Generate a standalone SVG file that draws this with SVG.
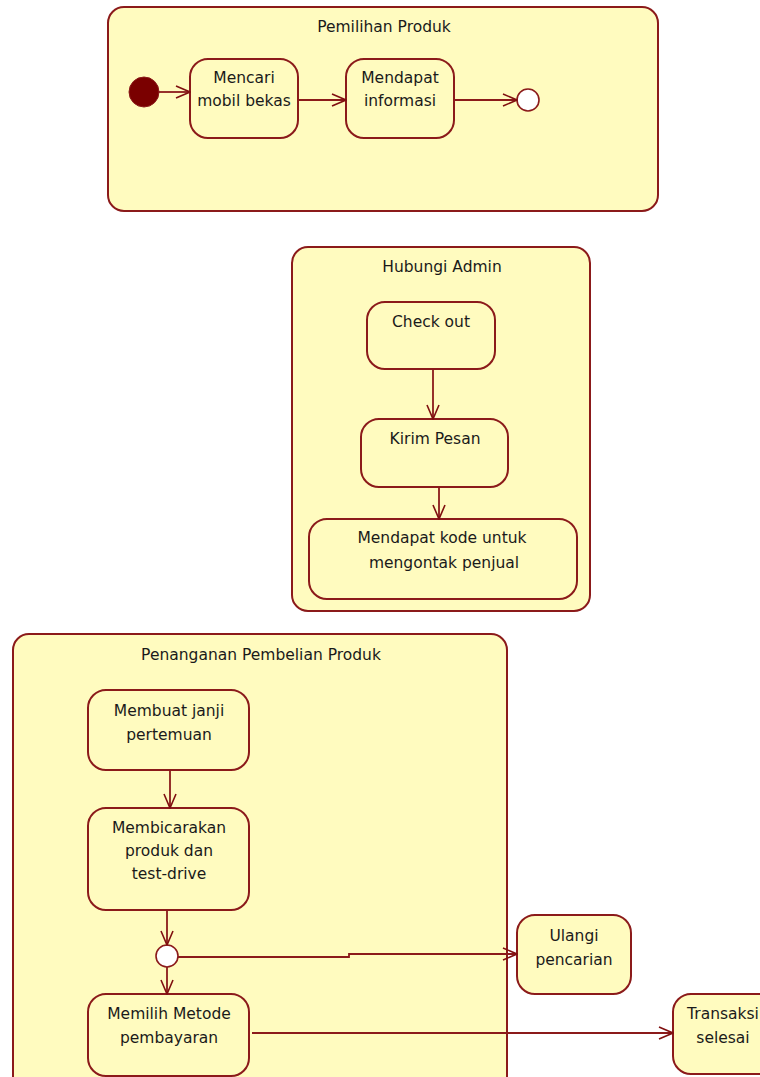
<svg xmlns="http://www.w3.org/2000/svg" width="760" height="1077" viewBox="0 0 760 1077">
  <defs>
    <marker id="open" viewBox="0 0 16 14" refX="15" refY="7" markerWidth="16" markerHeight="14" markerUnits="userSpaceOnUse" orient="auto">
      <path d="M1 1 L15 7 L1 13" fill="none" stroke="#7f0f0f" stroke-width="1.6"/>
    </marker>
  </defs>
  <style>
    .frame { fill: #fffbbf; stroke: #8b1a1a; stroke-width: 2; }
    .act { fill: #fffbbf; stroke: #8b1a1a; stroke-width: 2; }
    .lbl { font-family: "DejaVu Sans", "Liberation Sans", sans-serif; font-size: 15.5px; fill: #1a1a1a; text-anchor: middle; }
    .edge { fill: none; stroke: #8b1a1a; stroke-width: 1.8; marker-end: url(#open); }
  </style>
  <rect width="760" height="1077" fill="#ffffff"/>

  <!-- Pemilihan Produk -->
  <g id="pemilihan-produk">
    <rect class="frame" x="108" y="7" width="550" height="204" rx="16"/>
    <text class="lbl" x="384" y="32">Pemilihan Produk</text>
  </g>
  <g id="initial">
    <circle cx="144" cy="92" r="15" fill="#7a0000" stroke="#8b1a1a" stroke-width="1"/>
  </g>
  <g id="mencari-mobil">
    <rect class="act" x="190" y="59" width="108" height="79" rx="18"/>
    <text class="lbl" x="244" y="83">Mencari</text>
    <text class="lbl" x="244" y="106">mobil bekas</text>
  </g>
  <g id="mendapat-informasi">
    <rect class="act" x="346" y="59" width="108" height="79" rx="18"/>
    <text class="lbl" x="400" y="83">Mendapat</text>
    <text class="lbl" x="400" y="106">informasi</text>
  </g>
  <g id="final">
    <circle cx="528" cy="100" r="11" fill="#ffffff" stroke="#8b1a1a" stroke-width="1.6"/>
  </g>

  <!-- Hubungi Admin -->
  <g id="hubungi-admin">
    <rect class="frame" x="292" y="247" width="298" height="364" rx="16"/>
    <text class="lbl" x="442" y="272">Hubungi Admin</text>
  </g>
  <g id="check-out">
    <rect class="act" x="367" y="302" width="128" height="67" rx="18"/>
    <text class="lbl" x="431" y="327">Check out</text>
  </g>
  <g id="kirim-pesan">
    <rect class="act" x="361" y="419" width="147" height="68" rx="18"/>
    <text class="lbl" x="435" y="444">Kirim Pesan</text>
  </g>
  <g id="mendapat-kode">
    <rect class="act" x="309" y="519" width="268" height="80" rx="18"/>
    <text class="lbl" x="442" y="543">Mendapat kode untuk</text>
    <text class="lbl" x="444" y="568">mengontak penjual</text>
  </g>

  <!-- Penanganan Pembelian Produk -->
  <g id="penanganan-pembelian">
    <rect class="frame" x="13" y="634" width="494" height="460" rx="16"/>
    <text class="lbl" x="261" y="660">Penanganan Pembelian Produk</text>
  </g>
  <g id="membuat-janji">
    <rect class="act" x="88" y="690" width="161" height="80" rx="18"/>
    <text class="lbl" x="169" y="716">Membuat janji</text>
    <text class="lbl" x="169" y="740">pertemuan</text>
  </g>
  <g id="membicarakan-produk">
    <rect class="act" x="88" y="808" width="161" height="102" rx="18"/>
    <text class="lbl" x="169" y="833">Membicarakan</text>
    <text class="lbl" x="169" y="856">produk dan</text>
    <text class="lbl" x="169" y="879">test-drive</text>
  </g>
  <g id="decision">
    <circle cx="167" cy="956" r="11" fill="#ffffff" stroke="#8b1a1a" stroke-width="1.6"/>
  </g>
  <g id="memilih-metode">
    <rect class="act" x="88" y="994" width="161" height="82" rx="18"/>
    <text class="lbl" x="169" y="1019">Memilih Metode</text>
    <text class="lbl" x="169" y="1043">pembayaran</text>
  </g>
  <g id="ulangi-pencarian">
    <rect class="act" x="517" y="915" width="114" height="79" rx="18"/>
    <text class="lbl" x="574" y="941">Ulangi</text>
    <text class="lbl" x="574" y="965">pencarian</text>
  </g>
  <g id="transaksi-selesai">
    <rect class="act" x="673" y="994" width="110" height="80" rx="18"/>
    <text class="lbl" x="723" y="1019">Transaksi</text>
    <text class="lbl" x="723" y="1043">selesai</text>
  </g>

  <!-- connectors -->
  <g id="connectors">
    <path class="edge" d="M159 92 L190 92"/>
    <path class="edge" d="M298 100 L346 100"/>
    <path class="edge" d="M454 100 L517 100"/>
    <path class="edge" d="M433 369 L433 419"/>
    <path class="edge" d="M439 487 L439 519"/>
    <path class="edge" d="M170 770 L170 808"/>
    <path class="edge" d="M167 910 L167 945"/>
    <path class="edge" d="M167 967 L167 994"/>
    <path class="edge" d="M178 957 L349 957 L349 954 L517 954"/>
    <path class="edge" d="M252 1033 L673 1033"/>
  </g>
</svg>
